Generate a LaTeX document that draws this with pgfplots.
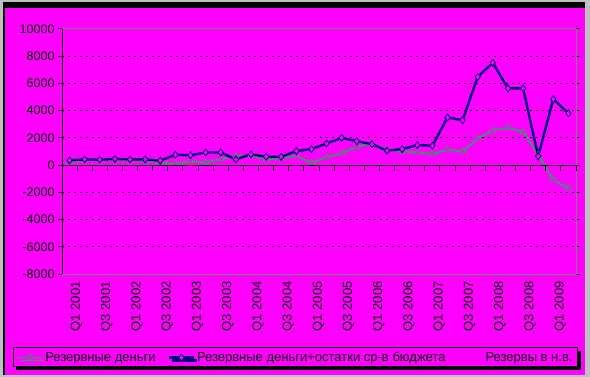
\documentclass[border=0pt]{standalone}
\usepackage{fontspec}
\setmainfont{Liberation Sans}
\usepackage{pgfplots}
\pgfplotsset{compat=1.18}
\usetikzlibrary{shadows}
\definecolor{mag}{RGB}{255,0,255}
\definecolor{frgray}{RGB}{192,192,192}
\definecolor{sgreen}{RGB}{51,153,102}
\definecolor{navy}{RGB}{0,0,128}
\begin{document}
\begin{tikzpicture}
\fill[frgray] (0bp,0bp) rectangle (590bp,377bp);
\useasboundingbox (0bp,0bp) rectangle (590bp,377bp);
\fill[black] (3bp,2bp) rectangle (585bp,375bp);
\fill[mag] (5bp,2bp) rectangle (585bp,369bp);
\begin{axis}[
  at={(62bp,103bp)}, anchor=south west, width=514bp, height=245bp, scale only axis,
  xmin=-0.5, xmax=33.5, ymin=-8000, ymax=10000,
  axis line style={gray, line width=1bp},
  xtick={0,2,...,32},
  xticklabels={Q1 2001,Q3 2001,Q1 2002,Q3 2002,Q1 2003,Q3 2003,Q1 2004,Q3 2004,Q1 2005,Q3 2005,Q1 2006,Q3 2006,Q1 2007,Q3 2007,Q1 2008,Q3 2008,Q1 2009},
  x tick label style={rotate=90, anchor=east, font=\fontsize{13bp}{15bp}\selectfont, yshift=-7bp},
  xtick style={draw=none},
  ytick={-6000,-4000,...,8000},
  extra y ticks={-8000,10000},
  extra y tick style={grid=none},
  scaled y ticks=false,
  ymajorgrids,
  grid style={black, line width=1bp, dash pattern=on 2bp off 4bp},
  y tick style={black, line width=1bp},
  tick align=outside, major tick length=4bp,
  y tick label style={font=\fontsize{12.5bp}{14bp}\selectfont},
  /pgf/number format/assume math mode=true,
  /pgf/number format/1000 sep={},
  legend columns=3,
  legend image code/.code={\draw[mark repeat=2,mark phase=2,#1] plot coordinates {(0bp,0bp) (12.5bp,0bp) (25bp,0bp)};},
  legend style={at={(0.4543,-0.3408)}, anchor=center, draw=black, line width=1bp, fill=mag,
    font=\fontsize{13bp}{15bp}\selectfont,
    drop shadow={opacity=1, fill=black, shadow xshift=3bp, shadow yshift=-3bp},
    /tikz/every even column/.append style={column sep=10bp}},
]
\addplot[color=sgreen, line width=1.8bp, mark=triangle*, mark size=3.5bp, mark options={fill=mag, line width=0.8bp}]
coordinates {
(0,250)(1,350)(2,360)(3,380)(4,350)(5,330)(6,200)(7,80)(8,300)(9,200)
(10,450)(11,650)(12,700)(13,430)(14,500)(15,700)(16,150)(17,600)(18,850)(19,1350)
(20,1550)(21,1150)(22,1000)(23,950)(24,800)(25,1150)(26,1000)(27,1950)(28,2550)(29,2750)
(30,2450)(31,750)(32,-1100)(33,-1700)};
\addlegendentry{Резервные деньги}
\addplot[color=navy, line width=2.4bp, mark=diamond*, mark size=3.5bp, mark options={fill=mag, line width=0.8bp}]
coordinates {
(0,350)(1,420)(2,400)(3,450)(4,420)(5,420)(6,330)(7,760)(8,720)(9,930)
(10,930)(11,420)(12,790)(13,620)(14,610)(15,1030)(16,1180)(17,1590)(18,2000)(19,1760)
(20,1540)(21,1060)(22,1180)(23,1470)(24,1420)(25,3500)(26,3300)(27,6490)(28,7520)(29,5640)
(30,5640)(31,660)(32,4850)(33,3800)};
\addlegendentry{Резервные деньги+остатки ср-в бюджета}
\addlegendimage{mag, line width=1bp}
\addlegendentry{Резервы в н.в.}
\end{axis}
\begin{axis}[
  at={(62bp,103bp)}, anchor=south west, width=514bp, height=245bp, scale only axis,
  xmin=-0.5, xmax=33.5, ymin=-8000, ymax=10000,
  axis x line=middle, axis y line=left,
  axis line style={black, line width=1bp, -},
  xtick={-0.5,0.5,...,33.5}, xticklabels={},
  ytick=\empty,
  x tick style={black, line width=1bp, yshift=-3bp},
  xtick align=center, major tick length=6bp,
]
\end{axis}
\end{tikzpicture}
\end{document}
